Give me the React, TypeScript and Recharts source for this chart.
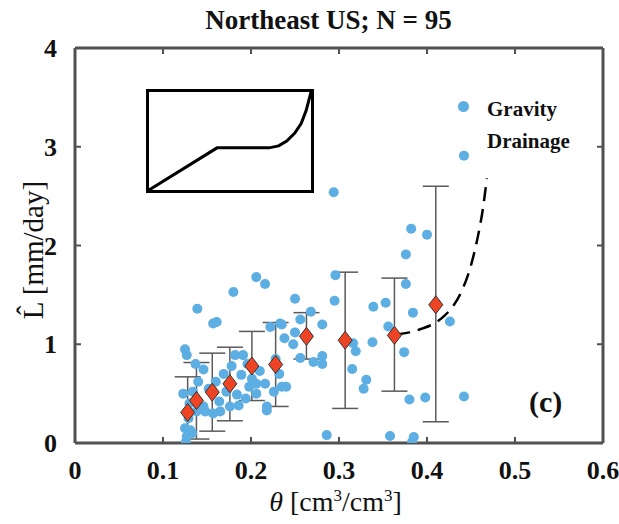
import React from 'react';
import {
  ComposedChart,
  Scatter,
  Line,
  XAxis,
  YAxis,
  ErrorBar,
  LineChart,
} from 'recharts';

// gravity drainage observations
const obsTheta = [
  0.294, 0.382, 0.4, 0.376, 0.296, 0.376, 0.25, 0.295, 0.339, 0.353, 0.384, 0.268, 0.235, 0.256, 0.25, 0.238,
  0.248, 0.281, 0.356, 0.426, 0.316, 0.319, 0.338, 0.374, 0.256, 0.271, 0.281, 0.281, 0.315, 0.331, 0.328, 0.38,
  0.398, 0.442, 0.286, 0.358, 0.385, 0.383, 0.442, 0.233, 0.222, 0.206, 0.216, 0.18, 0.139, 0.157, 0.161, 0.125,
  0.127, 0.146, 0.182, 0.191, 0.169, 0.189, 0.201, 0.206, 0.216, 0.226, 0.235, 0.24, 0.123, 0.134, 0.164, 0.184,
  0.206, 0.198, 0.218, 0.129, 0.125, 0.131, 0.126, 0.133, 0.146, 0.148, 0.165, 0.176, 0.157, 0.186, 0.218, 0.138,
  0.127, 0.14, 0.152, 0.16, 0.172, 0.178, 0.196, 0.21, 0.228, 0.13, 0.194, 0.232, 0.137,
];
const obsL = [
  2.54, 2.17, 2.11, 1.91, 1.7, 1.61, 1.46, 1.44, 1.38, 1.42, 1.32, 1.33, 1.2, 1.25, 1.12, 1.06,
  1.0, 1.2, 1.18, 1.23, 1.01, 0.93, 1.02, 0.92, 0.86, 0.82, 0.88, 0.8, 0.75, 0.64, 0.55, 0.44,
  0.46, 0.47, 0.08, 0.07, 0.06, 0.01, 2.91, 1.21, 1.175, 1.68, 1.61, 1.53, 1.36, 1.21, 1.225, 0.95,
  0.89, 0.745, 0.89, 0.89, 0.7, 0.69, 0.65, 0.6, 0.6, 0.52, 0.57, 0.57, 0.5, 0.52, 0.42, 0.49,
  0.5, 0.57, 0.37, 0.25, 0.15, 0.13, 0.01, 0.1, 0.37, 0.32, 0.32, 0.37, 0.3, 0.38, 0.33, 0.32,
  0.065, 0.62, 0.55, 0.62, 0.52, 0.78, 0.8, 0.73, 0.85, 0.4, 0.45, 0.7, 0.8,
];

// binned means with spread
const binTheta = [0.128, 0.138, 0.156, 0.176, 0.201, 0.228, 0.263, 0.307, 0.363, 0.41];
const binL = [0.31, 0.43, 0.515, 0.6, 0.78, 0.795, 1.08, 1.04, 1.09, 1.4];
const binLow = [0.0, 0.04, 0.12, 0.225, 0.43, 0.37, 0.85, 0.35, 0.525, 0.215];
const binHigh = [0.67, 0.815, 0.91, 0.97, 1.13, 1.22, 1.32, 1.73, 1.67, 2.6];

// fitted drainage curve
const fitTheta = [0.365, 0.38, 0.395, 0.41, 0.42, 0.43, 0.44, 0.45, 0.458, 0.464, 0.468];
const fitL = [1.1, 1.12, 1.16, 1.22, 1.29, 1.39, 1.55, 1.8, 2.1, 2.4, 2.68];

// schematic inset
const sketchX = [0, 0.42, 0.74, 0.8, 0.85, 0.9, 0.94, 0.97, 1];
const sketchY = [0, 0.43, 0.43, 0.45, 0.5, 0.58, 0.68, 0.81, 1];

const xTicks = [0, 0.1, 0.2, 0.3, 0.4, 0.5, 0.6];
const yTicks = [0, 1, 2, 3, 4];

const obsData = obsTheta.map((x, i) => ({ x, y: obsL[i] }));
const binData = binTheta.map((x, i) => ({
  x,
  y: binL[i],
  err: [binL[i] - binLow[i], binHigh[i] - binL[i]],
}));
const fitData = fitTheta.map((x, i) => ({ x, y: fitL[i] }));
const sketchData = sketchX.map((x, i) => ({ x, y: sketchY[i] }));

const FONT = '"Liberation Serif", "DejaVu Serif", serif';
const AXIS = '#505050';

const BottomTick = (props: any) => {
  const { x, y, payload } = props;
  return (
    <g>
      <line x1={x} x2={x} y1={y} y2={y - 6} stroke={AXIS} strokeWidth={2} />
      <text x={x} y={y + 36} textAnchor="middle" fontFamily={FONT} fontWeight="bold" fontSize={26} fill="#111">
        {payload.value}
      </text>
    </g>
  );
};

const TopTick = (props: any) => {
  const { x, y } = props;
  return <line x1={x} x2={x} y1={y} y2={y + 6} stroke={AXIS} strokeWidth={2} />;
};

const LeftTick = (props: any) => {
  const { x, y, payload } = props;
  return (
    <g>
      <line x1={x} x2={x + 6} y1={y} y2={y} stroke={AXIS} strokeWidth={2} />
      <text x={x - 18} y={y + 9} textAnchor="end" fontFamily={FONT} fontWeight="bold" fontSize={26} fill="#111">
        {payload.value}
      </text>
    </g>
  );
};

const RightTick = (props: any) => {
  const { x, y } = props;
  return <line x1={x} x2={x - 6} y1={y} y2={y} stroke={AXIS} strokeWidth={2} />;
};

const Dot = (p: any) => <circle cx={p.cx} cy={p.cy} r={5} fill="#5daee3" />;

const Diamond = (p: any) => (
  <polygon
    points={`${p.cx},${p.cy - 9} ${p.cx + 7},${p.cy} ${p.cx},${p.cy + 9} ${p.cx - 7},${p.cy}`}
    fill="#ee4423"
    stroke="#333"
    strokeWidth={1}
  />
);

export default function App() {
  return (
    <div style={{ position: 'absolute', left: 0, top: 0, width: 619, height: 524, background: '#fff' }}>
      <ComposedChart width={619} height={524} margin={{ top: 47, right: 15, bottom: 80, left: 74 }}>
        <XAxis
          dataKey="x"
          type="number"
          domain={[0, 0.6]}
          ticks={xTicks}
          height={1}
          tickSize={0}
          tickMargin={0}
          tick={<BottomTick />}
          axisLine={{ stroke: AXIS, strokeWidth: 3 }}
          allowDataOverflow
        />
        <XAxis
          xAxisId="top"
          orientation="top"
          dataKey="x"
          type="number"
          domain={[0, 0.6]}
          ticks={xTicks}
          height={1}
          tickSize={0}
          tickMargin={0}
          tick={<TopTick />}
          axisLine={{ stroke: AXIS, strokeWidth: 3 }}
          allowDataOverflow
        />
        <YAxis
          dataKey="y"
          type="number"
          domain={[0, 4]}
          ticks={yTicks}
          width={1}
          tickSize={0}
          tickMargin={0}
          tick={<LeftTick />}
          axisLine={{ stroke: AXIS, strokeWidth: 3 }}
          allowDataOverflow
        />
        <YAxis
          yAxisId="right"
          orientation="right"
          dataKey="y"
          type="number"
          domain={[0, 4]}
          ticks={yTicks}
          width={1}
          tickSize={0}
          tickMargin={0}
          tick={<RightTick />}
          axisLine={{ stroke: AXIS, strokeWidth: 3 }}
          allowDataOverflow
        />
        <Scatter data={obsData} dataKey="y" shape={Dot} isAnimationActive={false} />
        <Line
          data={fitData}
          dataKey="y"
          type="monotone"
          stroke="#000"
          strokeWidth={2.5}
          strokeDasharray="14 8"
          dot={false}
          isAnimationActive={false}
        />
        <Scatter data={binData} dataKey="y" shape={Diamond} isAnimationActive={false}>
          <ErrorBar dataKey="err" direction="y" width={13} stroke="#5a5a5a" strokeWidth={1.5} />
        </Scatter>
      </ComposedChart>

      <div
        style={{
          position: 'absolute',
          left: 0,
          width: 619,
          top: 5,
          textAlign: 'center',
          paddingLeft: 38,
          boxSizing: 'border-box',
          fontFamily: FONT,
          fontWeight: 'bold',
          fontSize: 27,
          color: '#111',
        }}
      >
        Northeast US; N = 95
      </div>

      <div
        style={{
          position: 'absolute',
          left: 33,
          top: 250,
          transform: 'translate(-50%, -50%) rotate(-90deg)',
          whiteSpace: 'nowrap',
          fontFamily: FONT,
          fontSize: 29,
          color: '#111',
        }}
      >
        {'L\u0302 [mm/day]'}
      </div>

      <div
        style={{
          position: 'absolute',
          left: 0,
          width: 619,
          top: 486,
          lineHeight: '32px',
          textAlign: 'center',
          paddingLeft: 52,
          boxSizing: 'border-box',
          fontFamily: FONT,
          fontSize: 28,
          color: '#111',
        }}
      >
        <i>θ</i> [cm<sup style={{ fontSize: 17, lineHeight: 0 }}>3</sup>/cm<sup style={{ fontSize: 17, lineHeight: 0 }}>3</sup>]
      </div>

      <div style={{ position: 'absolute', left: 458, top: 101, width: 11, height: 11, borderRadius: 6, background: '#5daee3' }} />
      <div
        style={{
          position: 'absolute',
          left: 487,
          top: 93,
          fontFamily: FONT,
          fontWeight: 'bold',
          fontSize: 21,
          lineHeight: '32px',
          color: '#111',
        }}
      >
        Gravity
        <br />
        Drainage
      </div>

      <div
        style={{
          position: 'absolute',
          left: 529,
          top: 385,
          fontFamily: FONT,
          fontWeight: 'bold',
          fontSize: 30,
          color: '#111',
        }}
      >
        (c)
      </div>

      <div
        style={{
          position: 'absolute',
          left: 146,
          top: 89,
          width: 168,
          height: 104,
          border: '3px solid #000',
          boxSizing: 'border-box',
          background: '#fff',
        }}
      >
        <LineChart width={162} height={98} data={sketchData} margin={{ top: 0, right: 0, bottom: 0, left: 0 }}>
          <XAxis dataKey="x" type="number" domain={[0, 1]} hide />
          <YAxis type="number" domain={[0, 1]} hide width={0} />
          <Line
            dataKey="y"
            type="linear"
            stroke="#000"
            strokeWidth={3}
            dot={false}
            isAnimationActive={false}
          />
        </LineChart>
      </div>
    </div>
  );
}
